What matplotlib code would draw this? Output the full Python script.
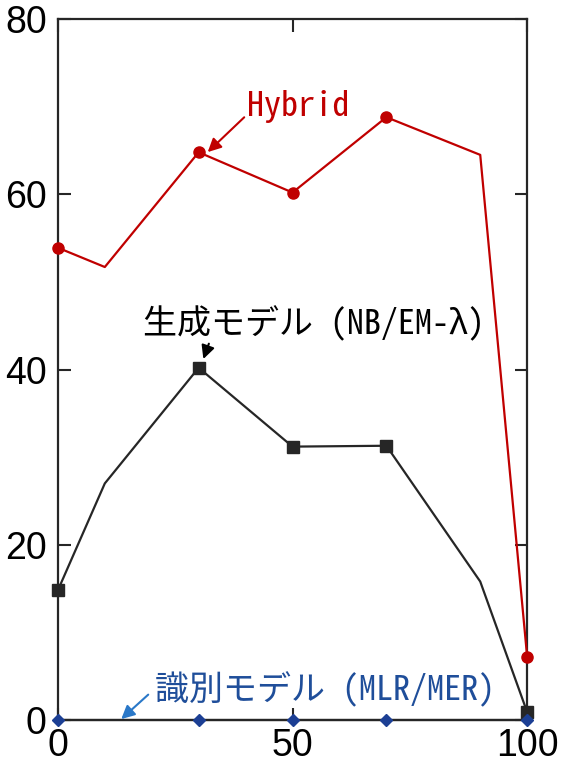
import matplotlib.pyplot as plt

plt.rcParams['font.family'] = ['Liberation Sans', 'DejaVu Sans']

# data
x_all = [0, 10, 30, 50, 70, 90, 100]
hybrid = [53.9, 51.7, 64.8, 60.2, 68.8, 64.5, 7.2]
generative = [14.8, 27.0, 40.2, 31.2, 31.3, 15.8, 0.9]
x_mark = [0, 30, 50, 70, 100]
hybrid_mark = [53.9, 64.8, 60.2, 68.8, 7.2]
generative_mark = [14.8, 40.2, 31.2, 31.3, 0.9]
discriminative = [0, 0, 0, 0, 0]

x_ticks = [0, 50, 100]
y_ticks = [0, 20, 40, 60, 80]

red = '#c00000'
dark = '#262626'
navy = '#1c3f94'

fig = plt.figure(figsize=(5.62, 7.63), dpi=100)
ax = fig.add_axes([0.103, 0.0564, 0.835, 0.9186])

ax.plot(x_all, hybrid, color=red, lw=1.6, clip_on=False, zorder=3)
ax.plot(x_mark, hybrid_mark, 'o', color=red, ms=8, clip_on=False, zorder=4)
ax.plot(x_all, generative, color=dark, lw=1.6, clip_on=False, zorder=3)
ax.plot(x_mark, generative_mark, 's', color=dark, ms=8, clip_on=False, zorder=4)
ax.plot(x_mark, discriminative, color=dark, lw=1.6, clip_on=False, zorder=3)
ax.plot(x_mark, discriminative, 'D', color=navy, ms=6, clip_on=False, zorder=5)

ax.set_xlim(0, 100)
ax.set_ylim(0, 80)
ax.set_xticks(x_ticks)
ax.set_yticks(y_ticks)
ax.tick_params(axis='both', direction='in', length=9, width=1.5,
               labelsize=27, color=dark)
ax.tick_params(axis='y', right=True, pad=8)
ax.tick_params(axis='x', top=True, pad=6)
for s in ax.spines.values():
    s.set_linewidth(1.6)
    s.set_color(dark)

# gothic look: half-width latin, full-width kana/kanji
jp = ['Noto Sans Mono CJK JP', 'Noto Sans CJK JP', 'DejaVu Sans']
fs = 24.5
ax.annotate('Hybrid', xy=(31.5, 64.6), xytext=(40.3, 70.0),
            color=red, fontsize=fs, family=jp, va='center',
            arrowprops=dict(arrowstyle='-|>', color=red, lw=1.5,
                            mutation_scale=20, shrinkA=0, shrinkB=2,
                            relpos=(-0.02, 0.2)))
ax.annotate('生成モデル (NB/EM-λ)', xy=(30.8, 40.9), xytext=(18.1, 45.3),
            color='black', fontsize=fs, family=jp, va='center',
            arrowprops=dict(arrowstyle='-|>', color='black', lw=1.5,
                            mutation_scale=20, shrinkA=0, shrinkB=2,
                            relpos=(0.2, 0.1)))
ax.annotate('識別モデル (MLR/MER)', xy=(13.5, 0.1), xytext=(20.7, 3.5),
            color='#1f4e9a', fontsize=fs, family=jp, va='center',
            arrowprops=dict(arrowstyle='-|>', color='#2a78c8', lw=1.5,
                            mutation_scale=20, shrinkA=0, shrinkB=0,
                            relpos=(-0.02, 0.35)))

fig.savefig('out.png', dpi=100)
